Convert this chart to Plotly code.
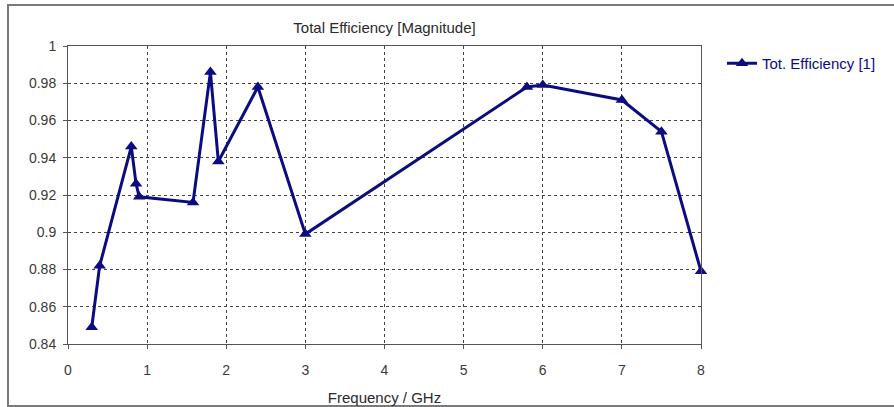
import plotly.graph_objects as go

freq_ghz = [0.3, 0.4, 0.8, 0.86, 0.9, 1.58, 1.8, 1.9, 2.4, 3.0, 5.8, 6.0, 7.0, 7.5, 8.0]
tot_eff = [0.849, 0.882, 0.946, 0.926, 0.919, 0.916, 0.986, 0.938, 0.978, 0.899, 0.978, 0.979, 0.971, 0.954, 0.879]

x_ticks = [0, 1, 2, 3, 4, 5, 6, 7, 8]
y_ticks = [0.84, 0.86, 0.88, 0.9, 0.92, 0.94, 0.96, 0.98, 1.0]
y_tick_text = ["0.84", "0.86", "0.88", "0.9", "0.92", "0.94", "0.96", "0.98", "1"]

NAVY = "#0c0c80"
FONT = "Liberation Sans"

W, H = 894, 407
L, R, T, B = 68, 701, 46, 344

fig = go.Figure()
fig.add_trace(go.Scatter(
    x=freq_ghz, y=tot_eff, mode="lines+markers",
    name="Tot. Efficiency [1]",
    line=dict(color=NAVY, width=3),
    marker=dict(symbol="triangle-up", size=11, color=NAVY),
    cliponaxis=False,
))

def px_x(p):
    return (p - L) / (R - L)

def px_y(p):
    return (B - p) / (B - T)

# outer frame
fig.add_shape(type="rect", xref="paper", yref="paper",
              x0=px_x(8), x1=px_x(900), y0=px_y(406), y1=px_y(5),
              line=dict(color="#7a7a7a", width=2), layer="below")

fig.update_layout(
    width=W, height=H,
    margin=dict(l=L, r=W - R, t=T, b=H - B, pad=0, autoexpand=False),
    paper_bgcolor="white", plot_bgcolor="white",
    font=dict(family=FONT, size=14, color="#3a3a3a"),
    title=dict(text="Total Efficiency [Magnitude]", x=((L + R) / 2) / W,
               xanchor="center", y=1 - 28 / H, yanchor="middle",
               font=dict(family=FONT, size=15, color="#2a2a2a")),
    showlegend=True,
    legend=dict(x=px_x(722), y=px_y(47), xanchor="left", yanchor="top",
                font=dict(family=FONT, size=15, color=NAVY), bgcolor="rgba(0,0,0,0)"),
    xaxis=dict(range=[0, 8], tickvals=x_ticks, ticktext=[str(v) for v in x_ticks],
               showgrid=True, gridcolor="#444444", griddash="dot", gridwidth=1,
               showline=True, linecolor="#555555", linewidth=1, mirror=True,
               ticks="outside", ticklen=4, tickcolor="#555555", ticklabelstandoff=9,
               zeroline=False, automargin=False,
               title=dict(text="Frequency / GHz", standoff=15, font=dict(family=FONT, size=15, color="#2a2a2a"))),
    yaxis=dict(range=[0.84, 1.0], tickvals=y_ticks, ticktext=y_tick_text,
               showgrid=True, gridcolor="#444444", griddash="dot", gridwidth=1,
               showline=True, linecolor="#555555", linewidth=1, mirror=True,
               ticks="outside", ticklen=4, tickcolor="#555555", ticklabelstandoff=4,
               zeroline=False, automargin=False),
)

fig.write_html("out.html")
